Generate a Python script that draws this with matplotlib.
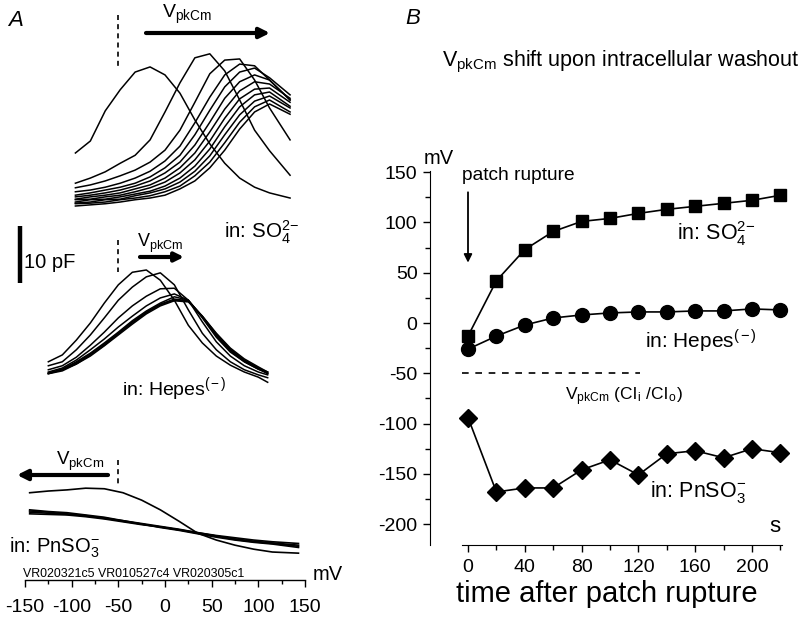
import matplotlib
matplotlib.use("Agg")
import matplotlib.pyplot as plt
from matplotlib.patches import FancyArrowPatch
from matplotlib.ticker import MultipleLocator, FixedLocator

plt.rcParams['font.family'] = ['Liberation Sans', 'DejaVu Sans']
plt.rcParams['mathtext.fontset'] = 'custom'
plt.rcParams['mathtext.rm'] = 'Liberation Sans'
plt.rcParams['mathtext.it'] = 'Liberation Sans:italic'
plt.rcParams['mathtext.bf'] = 'Liberation Sans:bold'
plt.rcParams['axes.unicode_minus'] = False

# ---------------- Panel B data (time course of VpkCm) ----------------
time_s = [0, 20, 40, 60, 80, 100, 120, 140, 160, 180, 200, 220]
v_so4 = [-13, 42, 73, 91, 101, 104, 109, 113, 116, 119, 122, 127]
v_hepes = [-26, -13, -2, 5, 8, 10, 11, 11, 12, 12, 14, 13]
v_pnso3 = [-94, -168, -164, -164, -146, -136, -151, -130, -127, -134, -125, -129]
v_clcl = -50  # VpkCm (Cli/Clo) reference level
x_ticks_B = [0, 40, 80, 120, 160, 200]
x_minor_B = [20, 60, 100, 140, 180, 220]
y_ticks_B = [-200, -150, -100, -50, 0, 50, 100, 150]
y_minor_B = [-175, -125, -75, -25, 25, 75, 125]

# ---------------- Panel A data (C-V traces, pF above each baseline) ----------------
V_top = [-96, -80, -64, -48, -32, -16, 0, 16, 32, 48, 64, 80, 96, 112, 134]
C_so4 = [
    [10.0, 12.1, 17.4, 21.1, 24.2, 25.1, 23.7, 20.5, 15.8, 11.6, 8.2, 5.6, 4.0, 3.0, 2.1],
    [4.7, 5.6, 6.7, 8.2, 9.6, 12.3, 17.2, 22.3, 26.7, 27.4, 24.4, 19.3, 14.0, 10.4, 6.1],
    [3.9, 4.4, 5.1, 6.0, 7.0, 8.4, 10.5, 14.0, 18.9, 23.9, 26.3, 26.5, 22.8, 17.9, 12.3],
    [3.2, 3.5, 4.0, 4.7, 5.6, 6.8, 8.6, 11.2, 15.3, 19.8, 23.7, 25.6, 25.3, 22.8, 19.3],
    [2.6, 3.0, 3.5, 4.0, 4.7, 5.8, 7.4, 9.6, 13.2, 17.5, 21.6, 24.2, 24.9, 23.2, 20.2],
    [2.3, 2.6, 3.0, 3.5, 4.2, 5.1, 6.5, 8.4, 11.4, 15.4, 19.6, 22.5, 23.7, 22.8, 19.3],
    [1.9, 2.3, 2.6, 3.0, 3.7, 4.4, 5.6, 7.4, 10.0, 13.7, 17.7, 20.9, 22.5, 22.1, 19.6],
    [1.8, 1.9, 2.3, 2.6, 3.2, 3.9, 4.9, 6.5, 8.8, 12.1, 16.1, 19.5, 21.2, 21.4, 18.9],
    [1.4, 1.8, 1.9, 2.3, 2.8, 3.3, 4.2, 5.6, 7.7, 10.7, 14.6, 18.1, 20.2, 20.7, 18.2],
    [1.2, 1.4, 1.8, 1.9, 2.5, 3.0, 3.7, 4.9, 6.8, 9.5, 13.2, 16.7, 19.1, 20.0, 17.9],
    [1.1, 1.2, 1.4, 1.8, 2.1, 2.5, 3.2, 4.2, 6.0, 8.4, 11.8, 15.4, 18.1, 19.3, 17.2],
    [0.7, 0.9, 1.1, 1.4, 1.8, 2.1, 2.6, 3.7, 5.1, 7.4, 10.5, 14.2, 17.2, 18.6, 16.8],
]

V_mid = [-125, -110, -95, -80, -65, -50, -35, -20, -5, 10, 25, 40, 55, 70, 85, 100, 110]
C_hepes = [
    [3.2, 4.4, 7.0, 10.0, 13.5, 16.7, 18.9, 19.3, 17.5, 14.0, 9.6, 6.5, 4.2, 2.6, 1.4, 0.5, -0.4],
    [2.5, 3.2, 5.3, 7.9, 10.9, 14.0, 16.3, 18.1, 18.8, 16.7, 12.3, 8.2, 5.3, 3.2, 1.8, 0.9, 0.4],
    [1.8, 2.5, 4.0, 6.1, 8.4, 10.9, 13.0, 14.7, 16.0, 16.1, 14.0, 10.2, 6.7, 4.2, 2.5, 1.4, 0.9],
    [1.4, 2.1, 3.5, 5.3, 7.2, 9.3, 11.2, 13.0, 14.4, 15.1, 14.0, 10.9, 7.5, 4.9, 3.2, 1.9, 1.2],
    [1.2, 1.9, 3.2, 4.7, 6.5, 8.4, 10.4, 12.1, 13.5, 14.6, 14.0, 11.1, 7.7, 5.1, 3.2, 1.9, 1.2],
    [1.1, 1.8, 3.0, 4.6, 6.3, 8.2, 10.2, 11.9, 13.3, 14.2, 13.9, 11.1, 7.9, 5.3, 3.3, 2.1, 1.4],
    [1.2, 1.8, 2.8, 4.4, 6.1, 8.1, 10.0, 11.8, 13.2, 14.0, 13.9, 11.2, 8.1, 5.4, 3.5, 2.1, 1.1],
    [1.1, 1.6, 2.8, 4.2, 6.0, 7.9, 9.8, 11.6, 13.0, 13.9, 13.7, 11.2, 8.2, 5.6, 3.7, 2.3, 1.4],
]

V_bot = [-145, -125, -105, -85, -65, -45, -25, -5, 15, 35, 55, 75, 95, 115, 143]
C_pnso3 = [
    [11.8, 12.1, 12.3, 12.6, 12.5, 11.8, 10.5, 8.8, 6.8, 4.7, 3.5, 2.6, 1.9, 1.4, 1.2],
    [8.4, 8.2, 8.1, 7.7, 7.4, 6.8, 6.3, 5.8, 5.3, 4.7, 4.2, 3.7, 3.3, 3.0, 2.6],
    [8.8, 8.5, 8.3, 7.9, 7.5, 6.9, 6.3, 5.7, 5.2, 4.6, 4.0, 3.5, 3.1, 2.8, 2.2],
    [8.1, 8.0, 7.9, 7.6, 7.2, 6.7, 6.2, 5.8, 5.3, 4.8, 4.3, 3.9, 3.5, 3.2, 2.9],
    [8.6, 8.4, 8.0, 7.8, 7.3, 6.9, 6.4, 5.9, 5.4, 4.8, 4.2, 3.6, 3.2, 2.9, 2.4],
]
x_ticks_A = [-150, -100, -50, 0, 50, 100, 150]
v_marker_A = -50
scale_pF = 10

# ---------------- layout helpers ----------------
W, H = 802, 620
fig = plt.figure(figsize=(W / 100, H / 100), dpi=100)
PXPF = 5.7  # pixels per pF


def fx(x):
    return x / W


def fy(y):
    return 1 - y / H


def ftext(x, y, s, **kw):
    kw.setdefault('ha', 'left')
    kw.setdefault('va', 'center')
    fig.text(fx(x), fy(y), s, **kw)


def farrow(x0, y0, x1, y1, lw=3.0, ms=14):
    a = FancyArrowPatch((fx(x0), fy(y0)), (fx(x1), fy(y1)), transform=fig.transFigure,
                        arrowstyle='-|>', mutation_scale=ms, lw=lw, color='k',
                        shrinkA=0, shrinkB=0)
    fig.patches.append(a)


# ================= Panel A =================
axA = fig.add_axes([fx(25), 0, fx(280), 1])
axA.set_xlim(-150, 150)
axA.set_ylim(0, H / PXPF)
axA.patch.set_alpha(0)
for s in ['top', 'left', 'right']:
    axA.spines[s].set_visible(False)
axA.spines['bottom'].set_position(('data', (H - 580) / PXPF))
axA.spines['bottom'].set_linewidth(1.0)
axA.set_yticks([])
axA.set_xticks(x_ticks_A)
axA.xaxis.set_minor_locator(MultipleLocator(25))
axA.tick_params(axis='x', which='major', direction='out', length=5, width=1.0,
                labelsize=14, pad=9)
axA.tick_params(axis='x', which='minor', direction='out', length=3, width=1.0)

off_top = (H - 210) / PXPF
off_mid = (H - 380) / PXPF
off_bot = (H - 560) / PXPF
for c in C_so4:
    axA.plot(V_top, [v + off_top for v in c], color='k', lw=1.1, solid_joinstyle='round')
for c in C_hepes:
    axA.plot(V_mid, [v + off_mid for v in c], color='k', lw=1.1, solid_joinstyle='round')
for c in C_pnso3:
    axA.plot(V_bot, [v + off_bot for v in c], color='k', lw=1.2, solid_joinstyle='round')

# dashed markers at -50 mV
for y0, y1 in [(15, 70), (240, 272), (460, 485)]:
    axA.plot([v_marker_A] * 2, [(H - y0) / PXPF, (H - y1) / PXPF], color='k', lw=1.2,
             ls=(0, (3, 2.5)))

# scale bar 10 pF
sb_x = (20 - 165) / 0.9333
sb_y0 = (H - 283) / PXPF
axA.plot([sb_x, sb_x], [sb_y0, sb_y0 + scale_pF], color='k', lw=3.2, clip_on=False,
         solid_capstyle='butt')

ftext(8, 20, 'A', fontsize=16, style='italic')
ftext(162, 14, r'V$_{\mathrm{pkCm}}$', fontsize=14)
farrow(146, 33, 270, 33, lw=3.0, ms=15)
ftext(224, 232, r'in: SO$_4^{2\mathrm{-}}$', fontsize=14.8)
ftext(24, 262, '10 pF', fontsize=14.5)
ftext(137, 243, r'V$_{\mathrm{pkCm}}$', fontsize=13)
farrow(140, 257, 184, 257, lw=3.0, ms=13)
ftext(122, 389, r'in: Hepes$^{(\,\mathrm{-}\,)}$', fontsize=14)
ftext(56, 461, r'V$_{\mathrm{pkCm}}$', fontsize=13.5)
farrow(108, 475, 17, 475, lw=3.0, ms=15)
ftext(9, 548, r'in: PnSO$_3^{\mathrm{-}}$', fontsize=14.6)
ftext(23, 574, 'VR020321c5 VR010527c4 VR020305c1', fontsize=8.9)
ftext(313, 574, 'mV', fontsize=14.5)

# ================= Panel B =================
PXT = 1.42     # px per s
PXV = 1.0057   # px per mV
t_left = (430 - 468) / PXT
t_right = (790 - 468) / PXT
v_top = (323 - 150) / PXV
v_bot = (323 - 560) / PXV
axB = fig.add_axes([fx(430), 1 - 560 / H, fx(360), 410 / H])
axB.set_xlim(t_left, t_right)
axB.set_ylim(v_bot, v_top)
axB.patch.set_alpha(0)
for s in ['top', 'right']:
    axB.spines[s].set_visible(False)
axB.spines['left'].set_bounds(-221, 151)
axB.spines['bottom'].set_position(('data', -221))
axB.spines['bottom'].set_bounds(-4, 221)
axB.set_xticks(x_ticks_B)
axB.set_yticks(y_ticks_B)
axB.xaxis.set_minor_locator(FixedLocator(x_minor_B))
axB.yaxis.set_minor_locator(FixedLocator(y_minor_B))
axB.tick_params(which='major', direction='out', length=5, width=1.0, labelsize=14)
axB.tick_params(which='minor', direction='out', length=3.5, width=1.0)
axB.tick_params(axis='x', pad=5)
axB.tick_params(axis='y', pad=4)

axB.plot(time_s, v_so4, color='k', lw=1.2, marker='s', ms=8.5, clip_on=False)
axB.plot(time_s, v_hepes, color='k', lw=1.2, marker='o', ms=10, clip_on=False)
axB.plot(time_s, v_pnso3, color='k', lw=1.2, marker='D', ms=9, clip_on=False)
axB.plot([-4, 121], [v_clcl, v_clcl], color='k', lw=1.2, ls=(0, (4, 4)))

axB.annotate('', xy=(0, 60), xytext=(0, 130),
             arrowprops=dict(arrowstyle='-|>', lw=1.3, color='k', mutation_scale=12,
                             shrinkA=0, shrinkB=0))
ftext(405, 19, 'B', fontsize=16, style='italic')
ftext(442, 62, r'V$_{\mathrm{pkCm}}$ shift upon intracellular washout', fontsize=15.5)
ftext(424, 159, 'mV', fontsize=14.5)
ftext(462, 175, 'patch rupture', fontsize=13.8)
ftext(677, 234, r'in: SO$_4^{2\mathrm{-}}$', fontsize=15.5)
ftext(645, 341, r'in: Hepes$^{(\,\mathrm{-}\,)}$', fontsize=15)
ftext(565, 397, r'V$_{\mathrm{pkCm}}$ (Cl$_{\,\mathrm{i}}$ /Cl$_{\,\mathrm{o}}$)', fontsize=12.5)
ftext(650, 492, r'in: PnSO$_3^{\mathrm{-}}$', fontsize=15.5)
ftext(769, 526, 's', fontsize=16)
ftext(607, 594, 'time after patch rupture', fontsize=21, ha='center')

fig.savefig('out.png', dpi=100)
